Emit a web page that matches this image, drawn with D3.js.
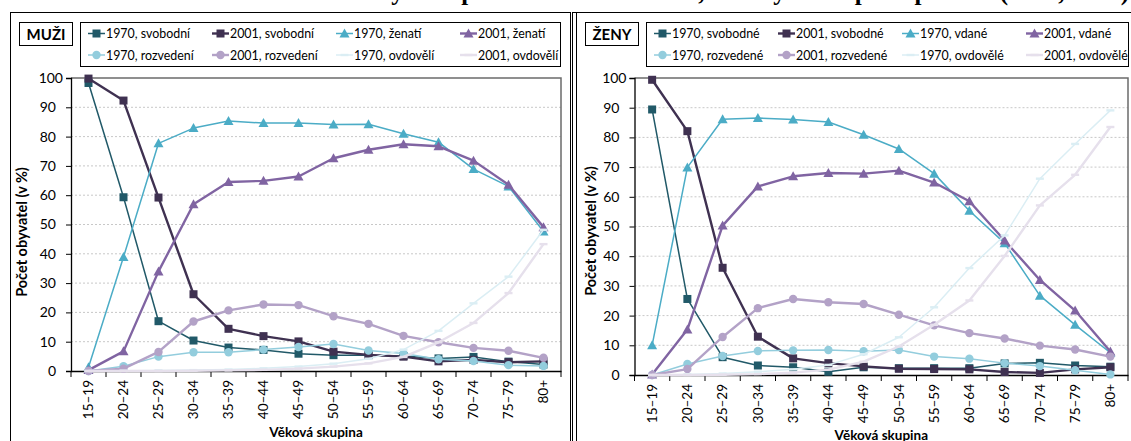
<!DOCTYPE html>
<html><head><meta charset="utf-8">
<script src="https://cdn.jsdelivr.net/npm/d3@7"></script>
<style>
html,body{margin:0;padding:0;background:#fff;}
svg{display:block;}
text{font-family:Lato,"Open Sans",sans-serif;fill:#000;}
</style></head>
<body><svg id="c" width="1131" height="441"></svg>
<script>
// ---------- data ----------
const categories = ["15–19","20–24","25–29","30–34","35–39","40–44","45–49","50–54","55–59","60–64","65–69","70–74","75–79","80+"];
const yTicks = [0,10,20,30,40,50,60,70,80,90,100];

const m1970_svobodni  = [98.3, 59.3, 17.0, 10.4, 8.0, 7.2, 5.9, 5.4, 5.4, 5.1, 4.3, 4.8, 3.2, 2.2];
const m2001_svobodni  = [99.8, 92.3, 59.2, 26.2, 14.4, 11.9, 10.1, 6.6, 5.5, 4.9, 3.3, 3.8, 3.0, 3.3];
const m1970_zenati    = [1.3, 38.9, 77.7, 82.9, 85.3, 84.6, 84.6, 84.1, 84.2, 81.0, 78.1, 68.9, 63.0, 47.6];
const m2001_zenati    = [0.3, 6.7, 34.0, 56.9, 64.5, 64.9, 66.4, 72.6, 75.5, 77.4, 76.7, 71.8, 63.6, 49.1];
const m1970_rozvedeni = [0, 1.6, 4.9, 6.4, 6.4, 7.3, 8.2, 9.2, 7.0, 6.0, 4.0, 3.4, 2.0, 1.7];
const m2001_rozvedeni = [0, 0.8, 6.5, 16.9, 20.7, 22.7, 22.5, 18.7, 16.1, 12.0, 9.8, 7.9, 6.9, 4.5];
const m1970_ovdoveli  = [0, 0.1, 0.2, 0.3, 0.5, 0.9, 1.5, 2.5, 4.2, 7.3, 13.7, 23.1, 32.2, 48.2];
const m2001_ovdoveli  = [0, 0, 0, 0.1, 0.2, 0.4, 0.8, 1.5, 2.6, 4.8, 9.8, 16.4, 26.6, 43.3];

const f1970_svobodne  = [89.4, 25.6, 6.0, 3.2, 2.6, 1.1, 2.6, 2.3, 2.3, 2.3, 3.9, 4.1, 3.2, 2.8];
const f2001_svobodne  = [99.4, 82.1, 36.1, 12.9, 5.6, 4.0, 2.9, 2.1, 2.0, 1.9, 1.0, 0.7, 1.9, 2.6];
const f1970_vdane     = [10.0, 69.9, 86.1, 86.5, 86.0, 85.2, 80.9, 76.1, 67.8, 55.3, 44.4, 26.7, 16.9, 7.5];
const f2001_vdane     = [0.2, 15.3, 50.3, 63.5, 66.9, 68.0, 67.8, 68.8, 64.8, 58.5, 45.3, 32.0, 21.7, 7.9];
const f1970_rozvedene = [0, 3.7, 6.4, 8.1, 8.3, 8.4, 8.0, 8.4, 6.2, 5.5, 4.0, 3.0, 1.6, 0.2];
const f2001_rozvedene = [0, 2.0, 12.8, 22.5, 25.6, 24.5, 23.9, 20.3, 16.7, 14.1, 12.3, 9.9, 8.6, 6.2];
const f1970_ovdovele  = [0, 0.2, 0.5, 1.1, 1.9, 3.4, 7.0, 12.7, 22.8, 36.0, 47.0, 66.1, 77.8, 89.1];
const f2001_ovdovele  = [0, 0, 0.1, 0.3, 0.8, 1.8, 4.5, 9.6, 16.9, 25.1, 40.1, 57.1, 67.4, 83.5];

const menNames   = ["1970, svobodní","2001, svobodní","1970, ženatí","2001, ženatí","1970, rozvedení","2001, rozvedení","1970, ovdovělí","2001, ovdovělí"];
const womenNames = ["1970, svobodné","2001, svobodné","1970, vdané","2001, vdané","1970, rozvedené","2001, rozvedené","1970, ovdovělé","2001, ovdovělé"];
const titleText = "Struktura obyvatel podle rodinného stavu, věkových skupin a pohlaví (1970, 2001)";

// ---------- styles ----------
const styles = [
  {color:"#215968", w:1.5, marker:"square"},
  {color:"#3f3151", w:2.4, marker:"square"},
  {color:"#4bacc6", w:1.5, marker:"triangle"},
  {color:"#8064a2", w:2.4, marker:"triangle"},
  {color:"#93cddd", w:1.5, marker:"circle"},
  {color:"#b3a2c7", w:2.4, marker:"circle"},
  {color:"#dbeef4", w:1.5, marker:"dash"},
  {color:"#e6e0ec", w:2.4, marker:"dash"}
];

const svg = d3.select("#c");

// cut-off title (only its lowest part is visible in the reference)
svg.append("text").attr("x", 1129).attr("y", 0).attr("text-anchor","end")
  .style("font-family","'Liberation Serif',serif").style("font-weight","bold").style("font-size","25px")
  .text(titleText);

function marker(g, type, cx, cy, color){
  if(type==="square"){
    g.append("rect").attr("x",cx-4).attr("y",cy-4).attr("width",8).attr("height",8).attr("fill",color);
  } else if(type==="triangle"){
    g.append("path").attr("d",`M${cx},${cy-5}L${cx+5},${cy+4}L${cx-5},${cy+4}Z`).attr("fill",color);
  } else if(type==="circle"){
    g.append("circle").attr("cx",cx).attr("cy",cy).attr("r",4.2).attr("fill",color);
  } else {
    g.append("rect").attr("x",cx-4).attr("y",cy-1.2).attr("width",8).attr("height",2.4).attr("fill",color);
  }
}

function drawPanel(cfg){
  const g = svg.append("g");
  // frame
  cfg.frames.forEach(f=>{
    g.append("rect").attr("x",f[0]).attr("y",f[1]).attr("width",f[2]).attr("height",f[3])
      .attr("fill","none").attr("stroke","#000").attr("stroke-width",1);
  });
  // title box
  g.append("rect").attr("x",cfg.tb[0]+0.5).attr("y",22.5).attr("width",cfg.tb[1]).attr("height",23)
    .attr("fill","#fff").attr("stroke","#000").attr("stroke-width",1);
  g.append("text").attr("x",cfg.tb[0]+cfg.tb[1]/2+0.5).attr("y",40).attr("text-anchor","middle")
    .style("font-weight","bold").style("font-size","15px").text(cfg.label);
  // legend box
  g.append("rect").attr("x",cfg.lb[0]+0.5).attr("y",22.5).attr("width",cfg.lb[1]).attr("height",44)
    .attr("fill","#fff").attr("stroke","#000").attr("stroke-width",1);
  cfg.names.forEach((n,i)=>{
    const col = i%4, row = Math.floor(i/4);
    const lx = cfg.lb[0] + 8 + col*124, ly = row===0 ? 33.5 : 55;
    const st = styles[i];
    g.append("line").attr("x1",lx).attr("x2",lx+17).attr("y1",ly).attr("y2",ly)
      .attr("stroke",st.color).attr("stroke-width",st.w);
    marker(g, st.marker, lx+8.5, ly, st.color);
    g.append("text").attr("x",lx+18).attr("y",ly+4.5).style("font-size","12.4px").text(n);
  });

  const x = d3.scaleBand().domain(categories).range([cfg.x0,cfg.x1]);
  const y = d3.scaleLinear().domain([0,100]).range([cfg.yb,cfg.yt]);
  const cx = d => x(d)+x.bandwidth()/2;

  // gridlines
  g.append("g").selectAll("line").data(yTicks.filter(t=>t>0&&t<100)).join("line")
    .attr("x1",cfg.x0).attr("x2",cfg.x1).attr("y1",d=>y(d)).attr("y2",d=>y(d))
    .attr("stroke","#c8c8c8").attr("stroke-width",1).attr("stroke-dasharray","2,2");
  // plot frame top/right
  g.append("path").attr("d",`M${cfg.x0},${y(100)}H${cfg.x1}V${y(0)}`)
    .attr("fill","none").attr("stroke","#6b6b6b").attr("stroke-width",1.5);

  // y axis
  const ya = g.append("g").attr("transform",`translate(${cfg.x0},0)`)
    .call(d3.axisLeft(y).tickValues(yTicks).tickSize(5).tickPadding(4).tickFormat(d3.format("d")));
  ya.select(".domain").attr("stroke","#000").attr("stroke-width",1.3);
  ya.selectAll(".tick line").attr("stroke","#000");
  ya.selectAll(".tick text").style("font-size","14px").style("font-family","Lato,sans-serif").attr("fill","#000")
    .attr("x", d => d===100 ? -8 : -15);

  // x axis
  const xa = g.append("g").attr("transform",`translate(0,${cfg.yb})`)
    .call(d3.axisBottom(x).tickSize(0).tickPadding(0));
  xa.select(".domain").attr("stroke","#000").attr("stroke-width",1.3);
  xa.selectAll(".tick text").style("font-size","13.5px").style("font-family","Lato,sans-serif").attr("fill","#000")
    .attr("transform","rotate(-90)").attr("text-anchor","end").attr("x",-9).attr("y",0).attr("dy","0.35em");
  g.append("g").selectAll("line").data(categories.concat(["__end"])).join("line")
    .attr("x1",d=>d==="__end"?cfg.x1:x(d)).attr("x2",d=>d==="__end"?cfg.x1:x(d))
    .attr("y1",cfg.yb).attr("y2",cfg.yb+6).attr("stroke","#000").attr("stroke-width",1);

  // axis titles
  g.append("text").attr("transform",`translate(${cfg.ylx},${cfg.yly}) rotate(-90)`).attr("text-anchor","middle")
    .style("font-weight","bold").style("font-size","14.5px").text(cfg.ytitle);
  g.append("text").attr("x",(cfg.x0+cfg.x1)/2).attr("y",cfg.xly).attr("text-anchor","middle")
    .style("font-weight","bold").style("font-size","13.5px").text("Věková skupina");

  // series
  const line = d3.line().x((v,i)=>cx(categories[i])).y(v=>y(v));
  cfg.series.forEach((s,k)=>{
    const st = styles[k];
    g.append("path").datum(s).attr("d",line).attr("fill","none")
      .attr("stroke",st.color).attr("stroke-width",st.w).attr("stroke-linejoin","round");
    const mg = g.append("g");
    s.forEach((v,i)=>marker(mg, st.marker, cx(categories[i]), y(v), st.color));
  });
}

drawPanel({
  frames:[[10.5,12.5,560,440]],
  tb:[19,53], lb:[80,480], label:"MUŽI",
  x0:71, x1:561, yt:78, yb:371,
  ylx:27, yly:232, xly:437, ytitle:"Počet obyvatel  (v %)",
  names:menNames,
  series:[m1970_svobodni,m2001_svobodni,m1970_zenati,m2001_zenati,m1970_rozvedeni,m2001_rozvedeni,m1970_ovdoveli,m2001_ovdoveli]
});
drawPanel({
  frames:[[572.5,12.5,570,440],[576.5,12.5,560,440]],
  tb:[585,53], lb:[646,482], label:"ŽENY",
  x0:634.5, x1:1128, yt:78, yb:375,
  ylx:596, yly:231, xly:440, ytitle:"Počet obyvatel (v %)",
  names:womenNames,
  series:[f1970_svobodne,f2001_svobodne,f1970_vdane,f2001_vdane,f1970_rozvedene,f2001_rozvedene,f1970_ovdovele,f2001_ovdovele]
});
</script></body></html>
